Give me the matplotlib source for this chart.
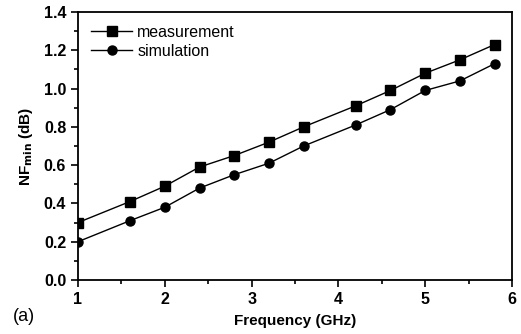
import numpy as np
import matplotlib
matplotlib.use('Agg')
import matplotlib.pyplot as plt
from matplotlib.ticker import MultipleLocator

plt.rcParams['font.family'] = ['Liberation Sans', 'DejaVu Sans']

# Frequency points (GHz)
freq = [1.0, 1.6, 2.0, 2.4, 2.8, 3.2, 3.6, 4.2, 4.6, 5.0, 5.4, 5.8]
# NFmin (dB)
nf_meas = [0.30, 0.41, 0.49, 0.59, 0.65, 0.72, 0.80, 0.91, 0.99, 1.08, 1.15, 1.23]
nf_sim = [0.20, 0.31, 0.38, 0.48, 0.55, 0.61, 0.70, 0.81, 0.89, 0.99, 1.04, 1.13]

fig = plt.figure(figsize=(5.21, 3.34), dpi=100)
ax = fig.add_axes([0.1497, 0.1617, 0.8330, 0.8024])

ax.plot(freq, nf_meas, color='black', lw=1.0, marker='s', ms=6.5, label='measurement')
ax.plot(freq, nf_sim, color='black', lw=1.0, marker='o', ms=6.5, label='simulation')

ax.set_xlim(1, 6)
ax.set_ylim(0.0, 1.4)
ax.xaxis.set_major_locator(MultipleLocator(1))
ax.xaxis.set_minor_locator(MultipleLocator(0.5))
ax.yaxis.set_major_locator(MultipleLocator(0.2))
ax.yaxis.set_minor_locator(MultipleLocator(0.1))
ax.set_yticks(np.arange(0, 1.41, 0.2))
ax.set_yticklabels(['%.1f' % v for v in np.arange(0, 1.41, 0.2)])
ax.tick_params(which='both', direction='out', top=False, right=False, labelsize=11.5, width=1.2)
ax.tick_params(which='major', length=5)
ax.tick_params(which='minor', length=3)
for lab in ax.get_xticklabels() + ax.get_yticklabels():
    lab.set_fontweight('bold')
for sp in ax.spines.values():
    sp.set_linewidth(1.3)

ax.set_xlabel('Frequency (GHz)', fontsize=11, fontweight='bold', labelpad=5)
ax.set_ylabel(r'NF$_{\mathbf{min}}$ (dB)', fontsize=11, fontweight='bold', labelpad=6)

ax.legend(loc='upper left', frameon=False, fontsize=11.5, handlelength=2.6,
          handletextpad=0.3, borderaxespad=0.4, labelspacing=0.25)

fig.text(0.025, 0.04, '(a)', fontsize=13)

fig.savefig('out.png', dpi=100)
